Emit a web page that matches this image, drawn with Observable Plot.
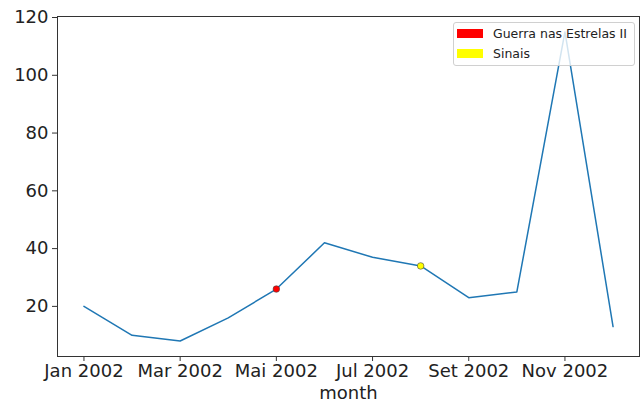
<!DOCTYPE html>
<html><head><meta charset="utf-8">
<script src="https://cdn.jsdelivr.net/npm/d3@7"></script>
<script src="https://cdn.jsdelivr.net/npm/@observablehq/plot@0.6"></script>
<style>
body{margin:0;background:#fff;font-family:"DejaVu Sans",sans-serif}
#wrap{position:relative;width:643px;height:402px;overflow:hidden}
.legend{position:absolute;left:453px;top:22px;width:180px;height:42px;border:1px solid #d0d0d0;border-radius:3px;background:rgba(255,255,255,0.8);font-family:"DejaVu Sans",sans-serif;font-size:12.5px;color:#222}
.legend .item{position:absolute;left:3px;height:20px;display:flex;align-items:center}
.legend .sw{width:26px;height:9px;margin-right:10px}
</style></head><body><div id="wrap"></div>
<script>
const months = ["2002-01","2002-02","2002-03","2002-04","2002-05","2002-06","2002-07","2002-08","2002-09","2002-10","2002-11","2002-12"];
const counts = [20,10,8,16,26,42,37,34,23,25,115,13];
const highlightMonths = ["2002-05","2002-08"];
const highlightLabels = ["Guerra nas Estrelas II","Sinais"];
const highlightColors = ["red","yellow"];
const tickMonths = ["2002-01","2002-03","2002-05","2002-07","2002-09","2002-11"];
const tickLabels = ["Jan 2002","Mar 2002","Mai 2002","Jul 2002","Set 2002","Nov 2002"];
const yTicks = [20,40,60,80,100,120];

// monthly periods are evenly spaced: position = period index
const data = months.map((m,i)=>({period:i, value:counts[i]}));
const hl = highlightMonths.map((m,i)=>({period:months.indexOf(m), value:counts[months.indexOf(m)], color:highlightColors[i]}));
const tickPos = tickMonths.map(m=>months.indexOf(m));
const n = months.length - 1, pad = n*0.05;
const vmin = d3.min(counts), vmax = d3.max(counts), vpad = (vmax-vmin)*0.05;

const chart = Plot.plot({
  width:643, height:402,
  marginLeft:57, marginRight:4, marginTop:16, marginBottom:46,
  style:{fontFamily:"DejaVu Sans, sans-serif", fontSize:"18px", color:"#222", background:"#fff"},
  x:{type:"linear", domain:[-pad, n+pad]},
  y:{domain:[vmin-vpad, vmax+vpad]},
  marks:[
    Plot.axisY({ticks:yTicks, tickSize:5, tickPadding:4, fontSize:18, label:null, stroke:"#333"}),
    Plot.axisX({ticks:tickPos, tickFormat:(d)=>tickLabels[tickPos.indexOf(d)], tickSize:5, tickPadding:3, fontSize:18, label:"month", labelAnchor:"center", labelArrow:"none", labelOffset:42, stroke:"#333"}),
    Plot.line(data,{x:"period", y:"value", stroke:"#1f77b4", strokeWidth:1.5}),
    Plot.dot(hl,{x:"period", y:"value", r:3.3, fill:"color", stroke:"#444", strokeWidth:0.6}),
    Plot.frame({stroke:"#333", strokeWidth:1})
  ]
});
const wrap = document.getElementById("wrap");
wrap.appendChild(chart);
const leg = document.createElement("div");
leg.className = "legend";
highlightLabels.forEach((lab,i)=>{
  const it = document.createElement("div");
  it.className = "item";
  it.style.top = (i===0 ? 0 : 20) + "px";
  const sw = document.createElement("span");
  sw.className = "sw"; sw.style.background = highlightColors[i];
  const tx = document.createElement("span"); tx.textContent = lab;
  it.appendChild(sw); it.appendChild(tx);
  leg.appendChild(it);
});
wrap.appendChild(leg);
</script></body></html>
